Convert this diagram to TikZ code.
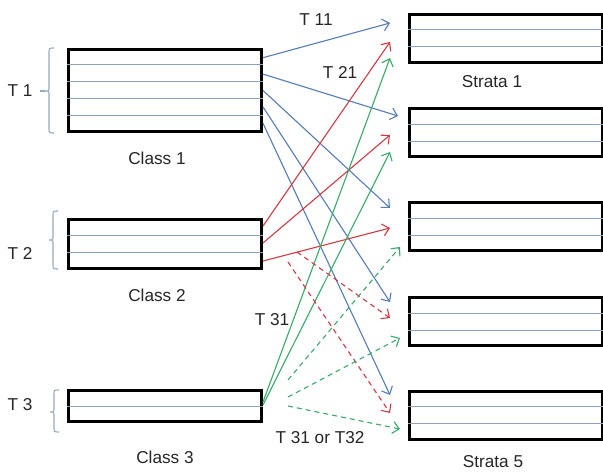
\documentclass[tikz,border=0pt]{standalone}
\usepackage{fontspec}
\setmainfont{Liberation Sans}
\usetikzlibrary{arrows.meta,calc}
\definecolor{flowblue}{RGB}{84,124,185}
\definecolor{flowred}{RGB}{215,55,65}
\definecolor{flowgreen}{RGB}{55,172,105}
\definecolor{rowline}{RGB}{140,163,186}
\definecolor{bracecol}{RGB}{150,170,190}
\tikzset{
  x=1pt, y=-1pt,
  tbox/.style={draw=black, line width=3pt, fill=white, inner sep=0pt, minimum width=193pt},
  rows/.style={draw=rowline, line width=1pt},
  lbl/.style={font=\fontsize{17.2}{20}\selectfont, text=black!85, inner sep=0pt},
  link/.style={line width=1.1pt, -{Straight Barb[length=6.5pt,width=12pt,line width=1.1pt]}},
  dlink/.style={link, dash pattern=on 5pt off 4pt},
  bracket/.style={draw=bracecol, line width=1.1pt},
}
\newcommand{\rowlines}[2]{% node name, number of rows
  \foreach \k in {1,...,\numexpr#2-1\relax}{
    \draw[rows] ($(#1.north west)!\k/#2!(#1.south west)$) -- ($(#1.north east)!\k/#2!(#1.south east)$);
  }
}
\newcommand{\sidebrace}[4]{% x, top, middle, bottom
  \draw[bracket] (#1+5,#2) .. controls (#1,#2) .. (#1,#2+5) -- (#1,#3-4)
    .. controls (#1,#3) .. (#1-4,#3) .. controls (#1,#3) .. (#1,#3+4)
    -- (#1,#4-5) .. controls (#1,#4) .. (#1+5,#4);
}
\begin{document}
\begin{tikzpicture}
\useasboundingbox (0,0) rectangle (603,473);
\fill[white] (0,0) rectangle (603,473);

% class boxes
\node[tbox, minimum height=82pt] (c1) at (165,90.5) {};
\node[tbox, minimum height=49pt] (c2) at (165,244) {};
\node[tbox, minimum height=31pt] (c3) at (165,406) {};
\rowlines{c1}{5}
\rowlines{c2}{3}
\rowlines{c3}{2}

% strata boxes
\foreach \n/\yy in {1/38.5, 2/133, 3/227, 4/322, 5/415}{
  \node[tbox, minimum height=48pt] (s\n) at (505.5,\yy) {};
  \rowlines{s\n}{3}
}

% braces and their labels
\sidebrace{49}{48}{91}{133}
\draw[bracket] (40,91) -- (45,91);
\sidebrace{53}{211}{240}{269}
\sidebrace{54}{390}{412}{432}
\node[lbl] (t1) at (20,91) {T 1};
\node[lbl] (t2) at (20,253) {T 2};
\node[lbl] (t3) at (20,405) {T 3};

\node[lbl] (k1) at (157,158) {Class 1};
\node[lbl] (k2) at (157,295) {Class 2};
\node[lbl] (k3) at (165,457) {Class 3};
\node[lbl] (r1) at (492,82) {Strata 1};
\node[lbl] (r5) at (493,462) {Strata 5};

% start points on the classes
\foreach \i/\yy in {1/57.7, 2/74.1, 3/90.5, 4/106.9, 5/123.3}{
  \coordinate (b\i) at (263,\yy);
}
\foreach \i/\yy in {1/226, 2/243, 3/261}{
  \coordinate (r\i) at (263,\yy);
}
\coordinate (g1) at (263,402);
\coordinate (g2) at (263,405);
\coordinate (rd1) at (297,252);
\coordinate (rd2) at (288,262);
\coordinate (gd1) at (288,380);
\coordinate (gd2) at (288,397);
\coordinate (gd3) at (288,406);

% end points in front of the strata
\coordinate (eb1) at (390,23);
\coordinate (eb2) at (398,116);
\coordinate (eb3) at (390,208);
\coordinate (eb4) at (390,302);
\coordinate (eb5) at (390,395);
\coordinate (er1) at (390,42);
\coordinate (er2) at (390,135);
\coordinate (er3) at (390,228);
\coordinate (erd1) at (390,318);
\coordinate (erd2) at (390,413);
\coordinate (eg1) at (390,58);
\coordinate (eg2) at (390,152);
\coordinate (egd1) at (400,247);
\coordinate (egd2) at (400,338);
\coordinate (egd3) at (400,429);

% transitions
\foreach \i in {1,...,5}{ \draw[link, flowblue] (b\i) -- (eb\i); }
\foreach \i in {1,2,3}{ \draw[link, flowred] (r\i) -- (er\i); }
\draw[link, flowgreen] (g1) -- (eg1);
\draw[link, flowgreen] (g2) -- (eg2);
\draw[dlink, flowred] (rd1) -- (erd1);
\draw[dlink, flowred] (rd2) -- (erd2);
\draw[dlink, flowgreen] (gd1) -- (egd1);
\draw[dlink, flowgreen] (gd2) -- (egd2);
\draw[dlink, flowgreen] (gd3) -- (egd3);

% transition labels
\node[lbl] (l11) at (316,20) {T 11};
\node[lbl] (l21) at (340,72) {T 21};
\node[lbl] (l31) at (272,320) {T 31};
\node[lbl] (l32) at (320,438) {T 31 or T32};
\end{tikzpicture}
\end{document}
